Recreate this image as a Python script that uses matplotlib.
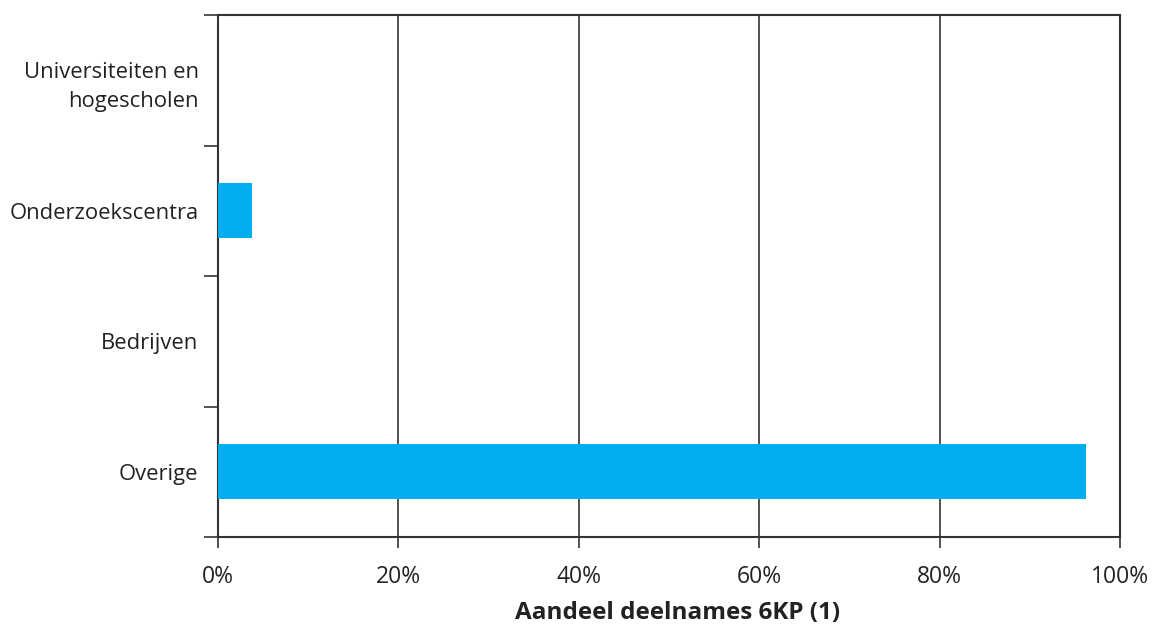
import matplotlib.pyplot as plt
import numpy as np

plt.rcParams['font.family'] = ['Open Sans', 'DejaVu Sans']

categories = ['Overige', 'Bedrijven', 'Onderzoekscentra', 'Universiteiten en\nhogescholen']
values = [96.2, 0.0, 3.8, 0.0]
xticks = [0, 20, 40, 60, 80, 100]
xlabels = ['0%', '20%', '40%', '60%', '80%', '100%']

fig = plt.figure(figsize=(11.63, 6.26), dpi=100)
ax = fig.add_axes([218/1163, 1-537/626, 902/1163, 522/626])

pos = np.arange(len(categories))
ax.barh(pos, values, height=0.42, color='#00aeef', zorder=3)

ax.set_xlim(0, 100)
ax.set_ylim(-0.5, len(categories) - 0.5)
ax.set_xticks(xticks)
ax.set_xticklabels(xlabels, fontsize=16.5, color='#222222')
ax.xaxis.grid(True, color='#333333', linewidth=1.2, zorder=0)

# labels at centres, tick marks at the boundaries
ax.set_yticks(pos)
ax.set_yticklabels(categories, fontsize=15.8, color='#222222', linespacing=1.5)
ax.tick_params(axis='y', length=0, pad=14)
ax.set_yticks(np.arange(len(categories) + 1) - 0.5, minor=True)
ax.tick_params(axis='y', which='minor', length=10, width=1.2, color='#333333')
ax.tick_params(axis='x', length=8, width=1.2, color='#333333', pad=12)

for s in ax.spines.values():
    s.set_color('#333333')
    s.set_linewidth(1.5)

ax.set_xlabel('Aandeel deelnames 6KP (1)', fontsize=17.5, fontweight='bold', color='#222222', labelpad=9)
ax.xaxis.label.set_x(0.51)

fig.savefig('out.png', dpi=100)
